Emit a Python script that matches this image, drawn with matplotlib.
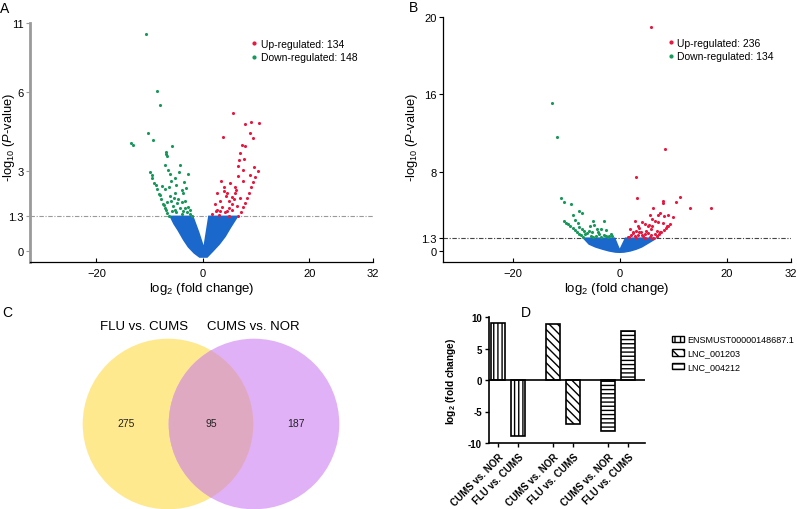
import numpy as np
import matplotlib
matplotlib.use("Agg")
import matplotlib.pyplot as plt
from matplotlib.patches import Circle, Patch
from matplotlib.lines import Line2D

plt.rcParams['font.family'] = ['Liberation Sans', 'DejaVu Sans']
plt.rcParams['mathtext.fontset'] = 'custom'
plt.rcParams['mathtext.rm'] = 'Liberation Sans'
plt.rcParams['mathtext.it'] = 'Liberation Sans:italic'
plt.rcParams['mathtext.bf'] = 'Liberation Sans:bold'
plt.rcParams['hatch.linewidth'] = 1.0

# ---- Daten Volcano A (FLU vs. CUMS) : (log2FC, -log10 P) ----
A_up = np.array([
    (5.7, 5.21), (9.05, 4.86), (10.65, 4.84), (8.0, 4.8), (8.9, 4.44), (9.5, 4.26),
    (3.8, 4.3), (7.3, 4.0), (8.0, 3.96), (7.0, 3.71), (7.8, 3.48), (6.8, 3.42),
    (6.7, 3.2), (9.7, 3.18), (7.5, 3.05), (6.6, 2.83), (8.9, 2.87), (3.5, 2.64),
    (7.5, 2.64), (6.0, 2.42), (6.2, 2.3), (4.0, 2.27), (4.6, 2.2), (4.3, 2.08),
    (2.7, 2.2), (5.5, 2.02), (6.0, 2.2), (3.3, 1.89), (2.2, 1.77), (4.9, 1.89),
    (5.4, 1.77), (3.6, 1.64), (2.7, 1.55), (4.6, 1.51), (5.5, 1.55), (1.7, 1.39),
    (3.0, 1.35), (4.9, 1.33), (10.3, 3.0), (9.9, 2.8), (9.5, 2.6), (9.1, 2.4),
    (8.7, 2.2), (8.3, 2.0), (7.9, 1.82), (7.5, 1.65), (7.1, 1.48), (6.7, 1.32),
    (5.0, 1.6), (4.2, 1.45), (3.9, 2.4), (5.8, 1.95), (6.4, 1.7), (7.0, 2.0),
    (2.4, 1.5), (3.2, 1.5), (5.1, 2.55),
])
A_down = np.array([
    (-10.7, 10.2), (-8.6, 6.1), (-8.0, 5.5), (-10.3, 4.46), (-9.3, 4.2), (-13.6, 4.06),
    (-13.1, 4.0), (-5.8, 3.94), (-7.0, 3.75), (-6.9, 3.67), (-6.75, 3.58), (-4.2, 3.24),
    (-7.2, 3.24), (-6.6, 3.06), (-4.5, 2.96), (-2.7, 2.92), (-5.9, 2.64), (-3.5, 2.6),
    (-3.1, 2.39), (-7.6, 2.45), (-7.2, 2.33), (-5.3, 2.2), (-3.7, 2.2), (-6.25, 2.08),
    (-4.6, 1.95), (-4.0, 1.83), (-6.7, 1.83), (-2.7, 1.64), (-2.35, 1.55), (-5.6, 1.7),
    (-5.3, 1.55), (-5.0, 1.45), (-3.7, 1.51), (-3.4, 1.6), (-2.1, 1.33),
    (-9.9, 2.96), (-9.5, 2.75), (-9.1, 2.55), (-8.7, 2.35), (-8.3, 2.15), (-7.9, 1.96),
    (-7.5, 1.78), (-7.1, 1.6), (-6.7, 1.42), (-6.4, 1.3), (-9.6, 2.85), (-8.9, 2.5),
    (-8.1, 2.1), (-7.3, 1.75), (-6.9, 1.55), (-6.0, 1.9), (-5.5, 2.0), (-4.9, 1.8),
    (-4.3, 1.6), (-3.0, 1.45), (-6.3, 2.4), (-5.0, 2.5), (-4.0, 2.3), (-3.3, 1.9),
    (-5.8, 1.5), (-6.1, 2.9), (-5.2, 2.75), (-2.5, 1.4), (-3.9, 1.4),
])
# Umriss der nicht signifikanten Punktwolke
A_ns_x = [-6.1, -5.4, -4.6, -3.6, -2.7, -1.6, -0.6, 0.8, 1.9, 3.1, 4.2, 5.2, 6.5,
          1.15, 0.6, 0.2, -0.8, -1.9]
A_ns_y = [1.3, 1.02, 0.77, 0.42, 0.15, -0.08, -0.23, -0.23, 0.0, 0.26, 0.55, 0.89, 1.3,
          1.3, 0.6, 0.08, 0.7, 1.3]
A_counts = [134, 148]

# ---- Daten Volcano B (CUMS vs. NOR) ----
B_up = np.array([
    (5.8, 19.5), (8.5, 10.4), (3.0, 7.5), (3.3, 5.4), (11.2, 5.54), (8.0, 5.13),
    (8.1, 4.9), (10.5, 4.97), (13.2, 4.39), (17.0, 4.39), (6.25, 4.39), (7.5, 3.88),
    (7.2, 3.67), (5.6, 3.67), (8.3, 3.6), (9.0, 3.67), (10.0, 3.44), (6.1, 3.27),
    (6.6, 3.1), (7.2, 2.99), (2.8, 3.1), (4.2, 2.99), (4.7, 2.76), (8.0, 2.86),
    (8.8, 2.58), (3.4, 2.52), (5.3, 2.58), (5.9, 2.24), (2.0, 2.24), (2.5, 1.9),
    (3.1, 2.07), (6.9, 2.07), (7.5, 1.9), (4.0, 1.9), (4.7, 1.73), (5.3, 1.84),
    (5.9, 1.63), (6.6, 1.73), (2.1, 1.63), (2.8, 1.5), (3.4, 1.63), (4.4, 1.5),
    (5.6, 1.46), (6.9, 1.5), (1.8, 1.4), (3.1, 1.37), (4.7, 1.37), (6.3, 1.37),
    (9.4, 2.76), (9.0, 2.55), (8.6, 2.35), (8.2, 2.15), (7.8, 1.95), (7.4, 1.75),
    (7.0, 1.55), (3.7, 2.3), (5.0, 2.0), (6.0, 2.5), (4.1, 1.6), (2.4, 1.8),
    (1.5, 1.45), (3.6, 1.9), (5.4, 2.7),
])
B_down = np.array([
    (-12.6, 15.1), (-11.8, 11.6), (-11.0, 5.38), (-10.4, 4.97), (-9.0, 4.77), (-7.6, 4.11),
    (-7.0, 3.85), (-8.8, 3.67), (-8.3, 3.2), (-7.8, 2.86), (-4.9, 3.1), (-3.0, 3.1),
    (-4.8, 2.65), (-5.5, 2.58), (-7.6, 2.42), (-7.0, 2.24), (-4.2, 2.24), (-3.4, 2.24),
    (-2.6, 2.14), (-5.7, 2.07), (-5.2, 1.9), (-6.1, 1.84), (-3.8, 1.73), (-3.0, 1.63),
    (-2.0, 1.56), (-5.4, 1.56), (-4.5, 1.5), (-3.5, 1.46), (-2.6, 1.5), (-1.6, 1.73),
    (-1.5, 1.5), (-10.4, 3.1), (-10.0, 2.9), (-9.6, 2.75), (-9.2, 2.55), (-8.8, 2.35),
    (-8.4, 2.15), (-8.0, 1.95), (-7.6, 1.78), (-7.2, 1.6), (-6.8, 1.43), (-6.4, 1.7),
    (-4.0, 1.9), (-2.2, 1.4), (-6.6, 2.0), (-5.0, 1.4),
])
B_ns_x = [-6.7, -5.7, -4.5, -3.2, -2.0, -0.8, 0.0, 0.8, 2.0, 3.1, 4.1, 5.0, 6.8,
          1.1, 0.0, -0.95]
B_ns_y = [1.3, 0.71, 0.42, 0.2, 0.02, -0.1, -0.12, -0.1, 0.02, 0.2, 0.42, 0.71, 1.3,
          1.3, 0.05, 1.3]
B_counts = [236, 134]

# ---- Venn ----
venn_sets = ["FLU vs. CUMS", "CUMS vs. NOR"]
venn_counts = [275, 95, 187]

# ---- Balken D ----
transkripte = ["ENSMUST00000148687.1", "LNC_001203", "LNC_004212"]
vergleiche = ["CUMS vs. NOR", "FLU vs. CUMS"]
fold_change = [[9.0, -8.9], [8.9, -7.0], [-8.15, 7.8]]

rot = "#E8173F"
gruen = "#16985A"
blau = "#1B68CC"


def segment_skala(knick, faktor):
    def vor(y):
        y = np.asarray(y, dtype=float)
        return np.where(y <= knick, y, knick + (y - knick) * faktor)

    def zurueck(t):
        t = np.asarray(t, dtype=float)
        return np.where(t <= knick, t, knick + (t - knick) / faktor)
    return vor, zurueck


fig = plt.figure(figsize=(7.97, 5.10), dpi=100)
W, H = 797, 510


def px_axes(x0, y0, x1, y1):
    return fig.add_axes([x0 / W, 1 - y1 / H, (x1 - x0) / W, (y1 - y0) / H])


def volcano(ax, up, down, ns_x, ns_y, counts, yticks, ylim, xlim, line_color, legend_y):
    ax.fill(ns_x, ns_y, color=blau, lw=1.2, ec=blau, zorder=2)
    ax.scatter(up[:, 0], up[:, 1], s=5, color=rot, lw=0, zorder=3)
    ax.scatter(down[:, 0], down[:, 1], s=5, color=gruen, lw=0, zorder=3)
    ax.axhline(1.3, color=line_color, lw=0.8, dashes=(4, 1.5, 1, 1.5), zorder=1)
    ax.set_xlim(*xlim)
    ax.set_ylim(*ylim)
    ax.set_yticks(yticks)
    ax.set_yticklabels([("%g" % t) for t in yticks])
    ax.set_xticks([-20, 0, 20, 32])
    ax.minorticks_off()
    ax.tick_params(axis="y", labelsize=8, length=3, width=0.8, pad=1.5)
    ax.tick_params(axis="x", labelsize=8, length=3, width=0.8, direction="in", pad=4)
    for s in ["top", "right"]:
        ax.spines[s].set_visible(False)
    ax.spines["bottom"].set_linewidth(0.9)
    ax.set_xlabel(r"log$_2$ (fold change)", fontsize=9.5, labelpad=2)
    ax.set_ylabel(r"-log$_{10}$ ($P$-value)", fontsize=9.3)
    handles = [
        Line2D([], [], ls="", marker="o", ms=2, color=rot),
        Line2D([], [], ls="", marker="o", ms=2, color=gruen),
    ]
    ax.legend(handles, ["Up-regulated: %d" % counts[0], "Down-regulated: %d" % counts[1]],
              loc="upper left", bbox_to_anchor=(0.645, legend_y), frameon=False,
              fontsize=7.5, handlelength=0.6, handletextpad=0.3,
              labelspacing=0.35, borderpad=0, borderaxespad=0)


# Panel A
ax_a = px_axes(30, 24, 373, 263)
ax_a.set_yscale("function", functions=segment_skala(6, 0.52))
volcano(ax_a, A_up, A_down, A_ns_x, A_ns_y, A_counts, [0, 1.3, 3, 6, 11],
        (-0.42, 11), (-32.5, 32), "#9a9a9a", 0.935)
ax_a.spines["left"].set_color("#9a9a9a")
ax_a.spines["left"].set_linewidth(2)
ax_a.tick_params(axis="y", color="#9a9a9a")
ax_a.yaxis.set_label_coords(-0.039, 0.527)

# Panel B
ax_b = px_axes(443, 18, 791, 263)
ax_b.set_yscale("function", functions=segment_skala(16, 1.96))
volcano(ax_b, B_up, B_down, B_ns_x, B_ns_y, B_counts, [0, 1.3, 8, 16, 20],
        (-1.12, 20), (-33, 32), "#444444", 0.915)
ax_b.spines["left"].set_linewidth(0.9)
ax_b.yaxis.set_label_coords(-0.066, 0.514)

# Panel C - Venn
ax_c = fig.add_axes([0, 0, 400 / W, 210 / H])
ax_c.set_xlim(0, 400)
ax_c.set_ylim(510, 300)
ax_c.axis("off")
gelb, lila, misch = "#FFE98F", "#E0B1F7", "#E0A9C2"
ax_c.add_patch(Circle((168, 425), 85.3, fc=gelb, ec="none"))
ax_c.add_patch(Circle((254, 425), 85.3, fc=lila, ec="none"))
ueberlapp = Circle((254, 425), 85.3, fc=misch, ec="none")
ax_c.add_patch(ueberlapp)
ueberlapp.set_clip_path(Circle((168, 425), 85.3, transform=ax_c.transData))
ax_c.text(144, 327, venn_sets[0], ha="center", va="center", fontsize=9.5)
ax_c.text(253, 327, venn_sets[1], ha="center", va="center", fontsize=9.5)
for xp, n in zip([126, 211, 296], venn_counts):
    ax_c.text(xp, 424, str(n), ha="center", va="center", fontsize=7.5, color="#222222")

# Panel D - Balken
ax_d = px_axes(489, 318, 645, 444)
muster = ["||||", "\\\\\\\\", "----"]
positionen = [[0, 1], [2.75, 3.75], [5.5, 6.5]]
for werte, pos, hatch, name in zip(fold_change, positionen, muster, transkripte):
    ax_d.bar(pos, werte, width=0.7, color="white", edgecolor="black",
             linewidth=1.2, hatch=hatch, label=name, zorder=2)
ax_d.axhline(0, color="black", lw=1.2, zorder=3)
ax_d.set_ylim(-10, 10)
ax_d.set_xlim(-0.45, 7.35)
ax_d.set_yticks([-10, -5, 0, 5, 10])
ax_d.set_yticklabels(["-10", "-5", "0", "5", "10"], fontweight="bold")
alle_pos = [p for pp in positionen for p in pp]
ax_d.set_xticks(alle_pos)
ax_d.set_xticklabels(vergleiche * 3, rotation=45, ha="right",
                     rotation_mode="anchor", fontweight="bold")
ax_d.tick_params(axis="both", labelsize=7, length=3, width=1.0, pad=2)
ax_d.tick_params(axis="x", pad=3)
for s in ["top", "right"]:
    ax_d.spines[s].set_visible(False)
ax_d.spines["left"].set_linewidth(1.2)
ax_d.spines["bottom"].set_linewidth(1.2)
ax_d.set_ylabel(r"$\mathbf{log}_{\mathbf{2}}$ (fold change)", fontsize=7.3,
                fontweight="bold")
ax_d.yaxis.set_label_coords(-0.2, 0.5)
leg_handles = [Patch(fc="white", ec="black", hatch=h, lw=1.0) for h in ["|||", "\\\\\\", "---"]]
fig.legend(leg_handles, transkripte, loc="upper left",
           bbox_to_anchor=(672 / W, 1 - 336 / H), frameon=False, fontsize=6.5,
           handlelength=1.3, handleheight=0.7, handletextpad=0.4,
           labelspacing=0.5, borderpad=0, borderaxespad=0)

# Panelbuchstaben
for buchstabe, xp, yp in [("A", 5, 9), ("B", 414, 8), ("C", 7, 313), ("D", 526, 313)]:
    fig.text(xp / W, 1 - yp / H, buchstabe, ha="center", va="center", fontsize=10)

fig.savefig("out.png", dpi=100)
